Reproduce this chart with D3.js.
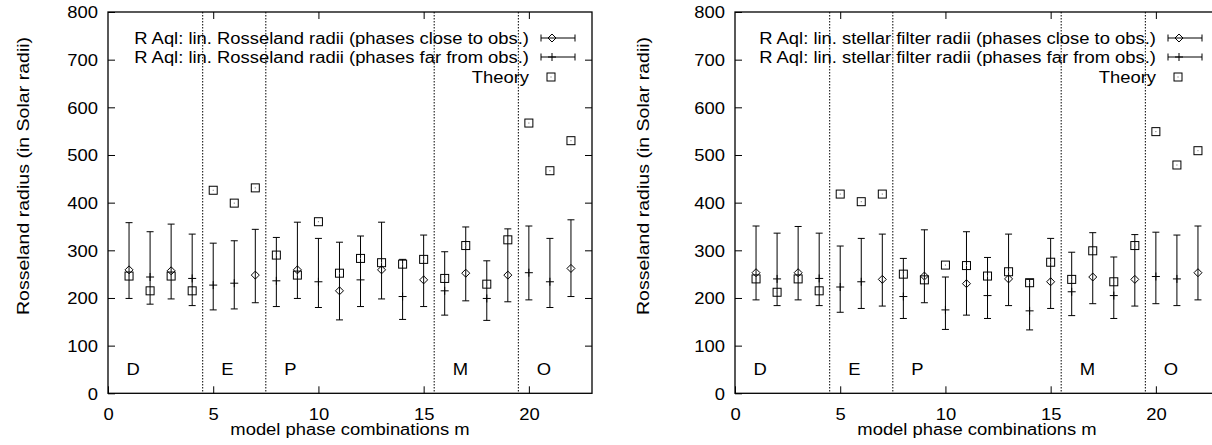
<!DOCTYPE html>
<html>
<head>
<meta charset="utf-8">
<script src="https://cdn.jsdelivr.net/npm/d3@7"></script>
<style>
  body { margin: 0; background: #fff; }
  text { font-family: "Liberation Sans", Arial, Helvetica, sans-serif; fill: #000; }
</style>
</head>
<body>
<svg id="chart" width="1212" height="445"></svg>
<script>
// model phase combinations
var mValues = [1, 2, 3, 4, 5, 6, 7, 8, 9, 10, 11, 12, 13, 14, 15, 16, 17, 18, 19, 20, 21, 22];
// which phase group each m belongs to
var phaseKind = ["close", "far", "close", "far", "far", "far", "close", "far", "close", "far", "close",
                 "far", "close", "far", "close", "far", "close", "far", "close", "far", "far", "close"];

// left: linear Rosseland radii
var rossValue  = [259, 244, 257, 241, 227, 231, 248, 236, 259, 234, 215, 238, 259, 203, 238, 215, 252, 199, 248, 253, 234, 262];
var rossLow    = [199, 187, 198, 184, 175, 177, 190, 182, 199, 180, 154, 182, 198, 155, 182, 164, 194, 153, 192, 196, 180, 203];
var rossHigh   = [358, 339, 355, 334, 315, 320, 344, 327, 359, 325, 317, 330, 359, 281, 332, 297, 349, 278, 345, 351, 325, 364];
var rossTheory = [246, 215, 246, 215, 426, 399, 431, 290, 248, 360, 252, 283, 274, 271, 281, 241, 310, 229, 322, 567, 467, 530];

// right: linear stellar filter radii
var filtValue  = [253, 240, 253, 241, 223, 234, 239, 203, 246, 175, 230, 205, 240, 173, 234, 213, 244, 205, 239, 245, 240, 253];
var filtLow    = [196, 184, 196, 184, 170, 178, 183, 157, 190, 134, 164, 157, 184, 133, 178, 163, 188, 157, 183, 188, 184, 196];
var filtHigh   = [351, 336, 350, 336, 309, 325, 334, 283, 343, 244, 339, 285, 334, 239, 325, 296, 337, 286, 333, 338, 332, 351];
var filtTheory = [240, 212, 240, 215, 418, 402, 418, 250, 238, 269, 268, 246, 255, 232, 275, 239, 299, 234, 310, 549, 479, 509];

var sectionNames  = ["D", "E", "P", "M", "O"];
var sectionStarts = [0, 4.5, 7.5, 15.5, 19.5];
var sectionBounds = [4.5, 7.5, 15.5, 19.5];

var xTicks = [0, 5, 10, 15, 20];
var yTicks = [0, 100, 200, 300, 400, 500, 600, 700, 800];

var svg = d3.select("#chart");

var panels = [
  {
    left: 108, labelX: 23,
    value: rossValue, low: rossLow, high: rossHigh, theory: rossTheory,
    legend: ["R Aql: lin. Rosseland radii (phases close to obs.)",
             "R Aql: lin. Rosseland radii (phases far from obs.)",
             "Theory"]
  },
  {
    left: 735, labelX: 643,
    value: filtValue, low: filtLow, high: filtHigh, theory: filtTheory,
    legend: ["R Aql: lin. stellar filter radii (phases close to obs.)",
             "R Aql: lin. stellar filter radii (phases far from obs.)",
             "Theory"]
  }
];

var plotTop = 12, width = 484, height = 381.3, tick = 7, cap = 3.5;
var fontSize = "16px";
var stretch = 1.15;   // the original's lettering is a bit wider than Liberation Sans

function diamond(g, x, y) {
  g.append("path")
    .attr("d", `M${x},${y - 4}L${x + 4},${y}L${x},${y + 4}L${x - 4},${y}Z`)
    .attr("fill", "none").attr("stroke", "#000").attr("stroke-width", 1);
}
function plus(g, x, y) {
  g.append("line").attr("x1", x - 4).attr("x2", x + 4).attr("y1", y).attr("y2", y)
    .attr("stroke", "#000");
  g.append("line").attr("x1", x).attr("x2", x).attr("y1", y - 4).attr("y2", y + 4)
    .attr("stroke", "#000");
}
function square(g, x, y) {
  g.append("rect").attr("x", x - 4).attr("y", y - 4).attr("width", 8).attr("height", 8)
    .attr("fill", "none").attr("stroke", "#000").attr("stroke-width", 1);
  g.append("rect").attr("x", x - 0.5).attr("y", y - 0.5).attr("width", 1).attr("height", 1)
    .attr("fill", "#666");
}

panels.forEach(function(p) {
  var x = d3.scaleLinear().domain([0, 23]).range([0, width]);
  var y = d3.scaleLinear().domain([0, 800]).range([height, 0]);

  var g = svg.append("g").attr("transform", `translate(${p.left}, ${plotTop})`);

  // axes with inward ticks (gnuplot style)
  var xAxis = d3.axisBottom(x).tickValues(xTicks).tickSizeInner(-tick).tickSizeOuter(0).tickPadding(15);
  var yAxis = d3.axisLeft(y).tickValues(yTicks).tickSizeInner(-tick).tickSizeOuter(0).tickPadding(10);

  var gx = g.append("g").attr("transform", `translate(0, ${height})`).call(xAxis);
  var gy = g.append("g").call(yAxis);
  [gx, gy].forEach(function(a) {
    a.select(".domain").remove();
    a.selectAll("line").attr("stroke", "#000");
    a.selectAll("text").style("font-size", fontSize).attr("fill", "#000");
  });
  gy.selectAll("text").attr("dy", "0.36em");

  // mirrored ticks on top and right
  g.append("g").call(d3.axisTop(x).tickValues(xTicks.slice(1)).tickSizeInner(-tick).tickSizeOuter(0).tickFormat(""))
    .select(".domain").remove();
  g.append("g").attr("transform", `translate(${width}, 0)`)
    .call(d3.axisRight(y).tickValues(yTicks.slice(1, -1)).tickSizeInner(-tick).tickSizeOuter(0).tickFormat(""))
    .select(".domain").remove();

  g.append("rect").attr("width", width).attr("height", height)
    .attr("fill", "none").attr("stroke", "#000").attr("stroke-width", 1.3);

  // section separators
  g.selectAll(".sep").data(sectionBounds).enter().append("line")
    .attr("x1", d => x(d)).attr("x2", d => x(d))
    .attr("y1", 0).attr("y2", height)
    .attr("stroke", "#000").attr("stroke-width", 1).attr("stroke-dasharray", "1.5,1.5");

  g.selectAll(".sec").data(sectionNames).enter().append("text")
    .attr("x", (d, i) => x(sectionStarts[i] + 0.88))
    .attr("y", y(50)).attr("dy", "0.36em")
    .style("font-size", fontSize)
    .text(d => d);

  // error bars
  mValues.forEach(function(m, i) {
    var cx = x(m);
    var bar = g.append("g");
    bar.append("line").attr("x1", cx).attr("x2", cx)
      .attr("y1", y(p.low[i])).attr("y2", y(p.high[i])).attr("stroke", "#000");
    [p.low[i], p.high[i]].forEach(function(v) {
      bar.append("line").attr("x1", cx - cap).attr("x2", cx + cap)
        .attr("y1", y(v)).attr("y2", y(v)).attr("stroke", "#000");
    });
    if (phaseKind[i] === "close") diamond(bar, cx, y(p.value[i]));
    else plus(bar, cx, y(p.value[i]));
    square(g, cx, y(p.theory[i]));
  });

  // legend
  var textEnd = 421, rows = [26, 45, 65];
  p.legend.forEach(function(label, k) {
    g.append("text").attr("x", textEnd).attr("y", rows[k]).attr("dy", "0.36em")
      .attr("text-anchor", "end").style("font-size", fontSize).text(label);
    var lx = textEnd + 23;
    if (k < 2) {
      var x1 = textEnd + 12, x2 = textEnd + 46, yy = rows[k];
      g.append("line").attr("x1", x1).attr("x2", x2).attr("y1", yy).attr("y2", yy).attr("stroke", "#000");
      [x1, x2].forEach(function(xx) {
        g.append("line").attr("x1", xx).attr("x2", xx).attr("y1", yy - cap).attr("y2", yy + cap).attr("stroke", "#000");
      });
      if (k === 0) diamond(g, lx, yy); else plus(g, lx, yy);
    } else {
      square(g, lx - 1, rows[k]);
    }
  });

  // axis titles
  svg.append("text")
    .attr("transform", `translate(${p.labelX}, 176) rotate(-90)`)
    .attr("text-anchor", "middle").attr("dy", "0.36em")
    .style("font-size", "17px")
    .text("Rosseland radius (in Solar radii)");
  svg.append("text")
    .attr("x", p.left + width / 2).attr("y", 435)
    .attr("text-anchor", "middle")
    .style("font-size", fontSize)
    .text("model phase combinations m");
});

// widen every label a little to match the original lettering
svg.selectAll("text").each(function() {
  var len = this.getComputedTextLength();
  d3.select(this).attr("textLength", len * stretch).attr("lengthAdjust", "spacingAndGlyphs");
});
</script>
</body>
</html>
